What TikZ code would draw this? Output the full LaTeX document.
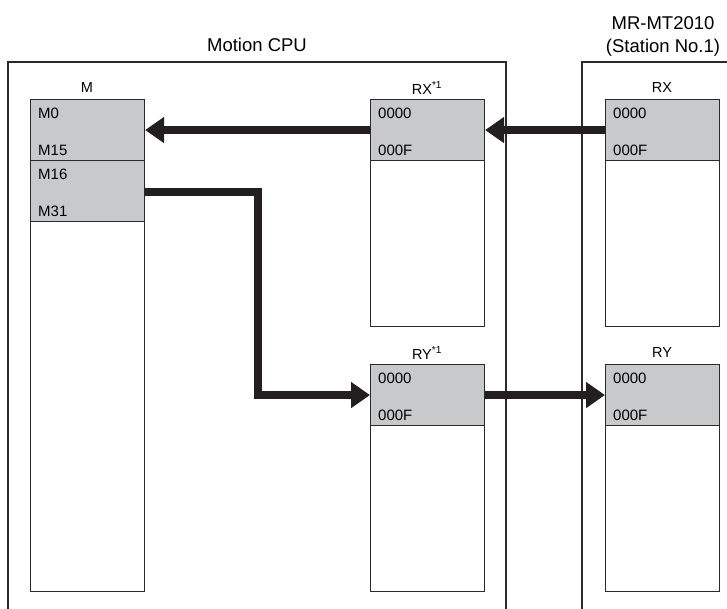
\documentclass[tikz,border=0pt]{standalone}
\usepackage{fontspec}
\setmainfont{Liberation Sans}
\usetikzlibrary{arrows.meta}
\definecolor{linec}{HTML}{2B2A2A}
\definecolor{cellgray}{HTML}{C8C9CB}
\definecolor{arrowc}{HTML}{231F20}
\tikzset{
  outerbox/.style={draw=linec, line width=1.1pt},
  column/.style={draw=linec, line width=1.1pt, fill=white, minimum width=114pt, inner sep=0pt, anchor=north west},
  cell/.style={draw=linec, line width=1.1pt, fill=cellgray, minimum width=114pt, minimum height=61pt, inner sep=0pt, anchor=north west},
  celltxt/.style={font=\fontsize{15}{18}\selectfont, inner sep=0pt, anchor=west},
  collabel/.style={font=\fontsize{14.5}{17}\selectfont, inner sep=0pt},
  title/.style={font=\fontsize{18.5}{23}\selectfont, inner sep=0pt, align=center},
  bigarrow/.style={draw=arrowc, line width=8pt, line join=miter, -{Triangle[length=19pt,width=25pt]}},
}
\begin{document}
\begin{tikzpicture}[x=1pt,y=-1pt]
\useasboundingbox (0,0) rectangle (727,608);
\clip (0,0) rectangle (727,608);
% outer boxes
\draw[outerbox] (8,640) -- (8,62) -- (506,62) -- (506,640);
\draw[outerbox] (740,62) -- (582,62) -- (582,640);
\node[title] (tcpu) at (257,45) {Motion CPU};
\node[title] (tmr) at (663,36) {MR-MT2010\\(Station No.1)};
% M column
\node[column, minimum height=492pt] (mcol) at (30,99) {};
\node[cell] (m1) at (30,99) {};
\node[cell] (m2) at (30,160) {};
\node[collabel] (ml) at (87,88) {M};
\node[celltxt] (m1a) at ([xshift=8pt,yshift=-14pt]m1.north west) {M0};
\node[celltxt] (m1b) at ([xshift=8pt,yshift=-51pt]m1.north west) {M15};
\node[celltxt] (m2a) at ([xshift=8pt,yshift=-14pt]m2.north west) {M16};
\node[celltxt] (m2b) at ([xshift=8pt,yshift=-51pt]m2.north west) {M31};
% RX column (CPU)
\node[column, minimum height=227pt] (rxcol) at (370,99) {};
\node[cell] (rx) at (370,99) {};
\node[collabel] (rxl) at (427,88) {RX\textsuperscript{*1}};
\node[celltxt] (rxa) at ([xshift=8pt,yshift=-14pt]rx.north west) {0000};
\node[celltxt] (rxb) at ([xshift=8pt,yshift=-51pt]rx.north west) {000F};
% RY column (CPU)
\node[column, minimum height=227pt] (rycol) at (370,364) {};
\node[cell] (ry) at (370,364) {};
\node[collabel] (ryl) at (427,353) {RY\textsuperscript{*1}};
\node[celltxt] (rya) at ([xshift=8pt,yshift=-14pt]ry.north west) {0000};
\node[celltxt] (ryb) at ([xshift=8pt,yshift=-51pt]ry.north west) {000F};
% RX column (MR)
\node[column, minimum height=227pt] (srxcol) at (605,99) {};
\node[cell] (srx) at (605,99) {};
\node[collabel] (srxl) at (662,88) {RX};
\node[celltxt] (srxa) at ([xshift=8pt,yshift=-14pt]srx.north west) {0000};
\node[celltxt] (srxb) at ([xshift=8pt,yshift=-51pt]srx.north west) {000F};
% RY column (MR)
\node[column, minimum height=227pt] (srycol) at (605,364) {};
\node[cell] (sry) at (605,364) {};
\node[collabel] (sryl) at (662,353) {RY};
\node[celltxt] (srya) at ([xshift=8pt,yshift=-14pt]sry.north west) {0000};
\node[celltxt] (sryb) at ([xshift=8pt,yshift=-51pt]sry.north west) {000F};
% arrows
\draw[bigarrow] (srx.west) -- (rx.east);
\draw[bigarrow] (rx.west) -- (m1.east);
\coordinate (bend) at (257.5,0);
\draw[bigarrow] ([yshift=-0.5pt]m2.east) -| (bend |- ry.west) -- (ry.west);
\draw[bigarrow] (ry.east) -- (sry.west);
\end{tikzpicture}
\end{document}
